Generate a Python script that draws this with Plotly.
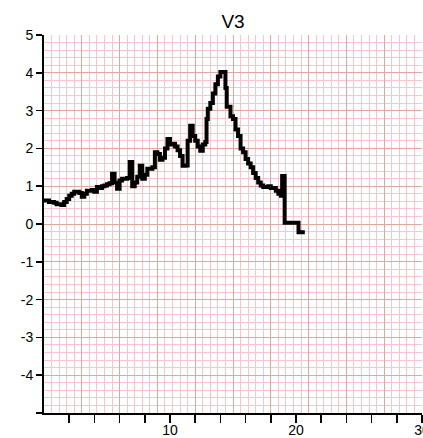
import plotly.graph_objects as go

# ---- data ----
x_vals = [0.0, 0.4, 0.8, 1.0, 1.4, 1.6, 1.8, 2.0, 2.2, 2.4, 2.8, 3.0, 3.2, 3.4, 3.8,
          4.0, 4.2, 4.4, 4.6, 4.8, 5.0, 5.2, 5.4, 5.6, 5.8, 6.0, 6.2, 6.6, 6.8, 7.0,
          7.2, 7.4, 7.6, 7.8, 8.0, 8.2, 8.6, 8.8, 9.0, 9.2, 9.4, 9.6, 9.8, 10.0, 10.2,
          10.4, 10.6, 10.8, 11.0, 11.2, 11.4, 11.6, 11.8, 12.0, 12.2, 12.4, 12.6, 12.8,
          12.9, 13.0, 13.2, 13.4, 13.6, 13.8, 14.0, 14.4, 14.5, 14.8, 15.0, 15.2, 15.4,
          15.6, 15.8, 16.0, 16.2, 16.4, 16.6, 16.8, 17.0, 17.2, 17.4, 17.8, 18.0, 18.4,
          18.6, 18.8, 18.9, 19.1, 20.2, 20.7]
y_vals = [0.62, 0.58, 0.56, 0.52, 0.50, 0.58, 0.66, 0.75, 0.80, 0.85, 0.82, 0.72, 0.80, 0.88, 0.90,
          0.85, 0.98, 0.95, 1.00, 1.02, 1.05, 1.08, 1.33, 1.10, 0.93, 1.15, 1.20, 1.22, 1.64, 1.00,
          1.10, 1.25, 1.54, 1.20, 1.30, 1.46, 1.50, 1.90, 1.85, 1.70, 1.75, 2.00, 2.25, 2.10, 2.12,
          2.05, 1.95, 1.80, 1.54, 1.55, 2.20, 2.60, 2.33, 2.20, 2.05, 1.94, 2.10, 2.17,
          2.78, 3.05, 3.20, 3.45, 3.70, 3.90, 4.02, 3.60, 3.10, 2.85, 2.78, 2.50, 2.33,
          2.00, 1.90, 1.72, 1.60, 1.50, 1.35, 1.22, 1.10, 1.02, 0.98, 1.00, 0.95, 0.88,
          0.80, 0.75, 1.27, 0.03, -0.22, -0.22]

title_text = "V3"
x_tick_vals = [2, 4, 6, 8, 10, 12, 14, 16, 18, 20, 22, 24, 26, 28, 30]
x_tick_text = ["", "", "", "", "10", "", "", "", "", "20", "", "", "", "", "30"]
y_tick_vals = [-5, -4, -3, -2, -1, 0, 1, 2, 3, 4, 5]
y_tick_text = ["", "-4", "-3", "-2", "-1", "0", "1", "2", "3", "4", "5"]

FONT = "Liberation Sans, Arial, sans-serif"
MAJOR = "rgb(226,165,160)"
MINOR = "rgb(255,195,205)"

fig = go.Figure()
# empty trace so that the grid axis (x) is drawn
fig.add_trace(go.Scatter(x=[], y=[], mode="lines", xaxis="x", yaxis="y",
                         showlegend=False, hoverinfo="skip"))
fig.add_trace(go.Scatter(
    x=x_vals, y=y_vals, mode="lines", line=dict(color="black", width=4, shape="hv"),
    xaxis="x2", yaxis="y", showlegend=False, hoverinfo="skip"))

fig.update_layout(
    template="none",
    width=423, height=438,
    margin=dict(l=44, r=1, t=35, b=25, autoexpand=False),
    paper_bgcolor="white", plot_bgcolor="white",
    font=dict(family=FONT, size=14, color="black"),
    title=dict(text=title_text, x=0.5, xref="paper", xanchor="center",
               y=1.0, yref="paper", yanchor="bottom", pad=dict(b=7),
               font=dict(family=FONT, size=19, color="black")),
    xaxis=dict(range=[0, 30], showgrid=True, dtick=3, tick0=0, gridcolor=MAJOR, gridwidth=1,
               minor=dict(showgrid=True, dtick=0.6, tick0=0, gridcolor=MINOR, gridwidth=1,
                          ticks=""),
               showticklabels=False, ticks="", zeroline=False, showline=False,
               automargin=False),
    xaxis2=dict(range=[0, 30], overlaying="x", side="bottom", anchor="y",
                tickmode="array", tickvals=x_tick_vals, ticktext=x_tick_text,
                ticks="outside", ticklen=8, tickwidth=1.5, tickcolor="black",
                ticklabelstandoff=-5, ticklabeloverflow="allow",
                showgrid=False, zeroline=False, showline=True, linecolor="black", linewidth=2,
                minor=dict(showgrid=False, ticks=""),
                tickfont=dict(family=FONT, size=14, color="black"), automargin=False),
    yaxis=dict(range=[-5, 5], tickmode="array", tickvals=y_tick_vals, ticktext=y_tick_text,
               showgrid=True, gridcolor=MAJOR, gridwidth=1,
               minor=dict(showgrid=True, dtick=0.2, tick0=0, gridcolor=MINOR, gridwidth=1,
                          ticks=""),
               ticks="outside", ticklen=6, tickwidth=1.5, tickcolor="black",
               zeroline=False, showline=True, linecolor="black", linewidth=2,
               tickfont=dict(family=FONT, size=14, color="black"), automargin=False),
)

fig.write_html("out.html", config={"displayModeBar": False, "staticPlot": True},
               post_script="document.body.style.margin='0';document.body.style.overflow='hidden';")
